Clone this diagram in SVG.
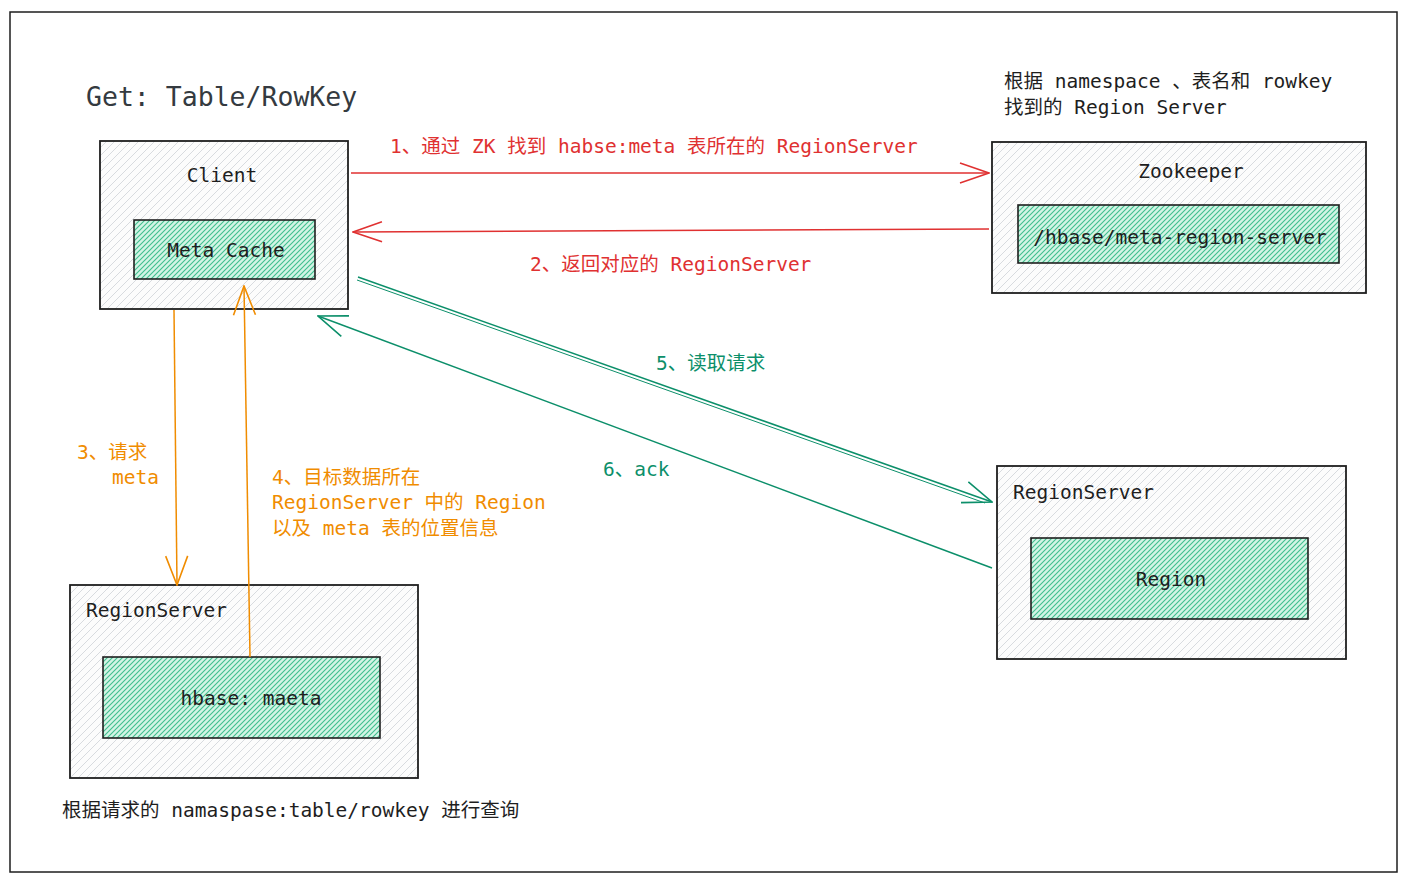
<svg xmlns="http://www.w3.org/2000/svg" width="1406" height="883" viewBox="0 0 1406 883">
<style>
text{font-family:"DejaVu Sans Mono","Noto Sans CJK SC",monospace;font-size:19.5px;fill:#1e1e1e}
.t{font-size:26.5px;fill:#343a40}
.red{fill:#e03131}
.org{fill:#f08c00}
.grn{fill:#0c8f6a}
.box{fill:url(#hg);stroke:#1e1e1e;stroke-width:1.8}
.inner{fill:url(#hgr);stroke:#1e1e1e;stroke-width:1.6}
.c{text-anchor:middle}
</style>
<defs>
<pattern id="hg" patternUnits="userSpaceOnUse" width="8" height="8">
<rect width="8" height="8" fill="#fcfcfc"/>
<path d="M-2,2 l4,-4 M0,8 l8,-8 M6,10 l4,-4" stroke="#d8dbdf" stroke-width="1"/>
</pattern>
<pattern id="hgr" patternUnits="userSpaceOnUse" width="5" height="5">
<rect width="5" height="5" fill="#d3f4e5"/>
<path d="M-1,1 l2,-2 M0,5 l5,-5 M4,6 l2,-2" stroke="#3fbf8e" stroke-width="1.1"/>
</pattern>
<marker id="ar" markerUnits="userSpaceOnUse" markerWidth="32" markerHeight="26" viewBox="0 0 32 26" refX="31" refY="13" orient="auto">
<path d="M2,3 L31,13 L2,23" fill="none" stroke="#e03131" stroke-width="1.6"/>
</marker>
<marker id="ao" markerUnits="userSpaceOnUse" markerWidth="32" markerHeight="26" viewBox="0 0 32 26" refX="31" refY="13" orient="auto">
<path d="M2,2 L31,13 L2,24" fill="none" stroke="#f08c00" stroke-width="1.6"/>
</marker>
<marker id="ag" markerUnits="userSpaceOnUse" markerWidth="32" markerHeight="26" viewBox="0 0 32 26" refX="31" refY="13" orient="auto">
<path d="M2,2 L31,13 L2,24" fill="none" stroke="#0c8f6a" stroke-width="1.6"/>
</marker>
</defs>
<rect width="1406" height="883" fill="#ffffff"/>
<rect x="10" y="12" width="1387" height="860" fill="none" stroke="#1e1e1e" stroke-width="1.5"/>

<text class="t" x="86" y="106">Get: Table/RowKey</text>
<text x="1004" y="88">根据 namespace 、表名和 rowkey</text>
<text x="1004" y="114">找到的 Region Server</text>

<g id="client">
<rect class="box" x="100" y="141" width="248" height="168"/>
<text class="c" x="222" y="182">Client</text>
</g>
<g id="meta-cache">
<rect class="inner" x="134" y="220" width="181" height="59"/>
<text class="c" x="226" y="257">Meta Cache</text>
</g>
<g id="zookeeper">
<rect class="box" x="992" y="142" width="374" height="151"/>
<text class="c" x="1191" y="178">Zookeeper</text>
</g>
<g id="meta-region-server">
<rect class="inner" x="1018" y="205" width="321" height="58"/>
<text class="c" x="1180" y="244">/hbase/meta-region-server</text>
</g>
<g id="regionserver-right">
<rect class="box" x="997" y="466" width="349" height="193"/>
<text x="1013" y="499">RegionServer</text>
</g>
<g id="region">
<rect class="inner" x="1031" y="538" width="277" height="81"/>
<text class="c" x="1171" y="586">Region</text>
</g>
<g id="regionserver-left">
<rect class="box" x="70" y="585" width="348" height="193"/>
<text x="86" y="617">RegionServer</text>
</g>
<g id="hbase-meta">
<rect class="inner" x="103" y="657" width="277" height="81"/>
<text class="c" x="251" y="705">hbase: maeta</text>
</g>
<text x="62" y="817">根据请求的 namaspase:table/rowkey 进行查询</text>

<g id="connectors" fill="none" stroke-width="1.5">
<path d="M351,173 L989,173" stroke="#e03131" marker-end="url(#ar)"/>
<path d="M989,229 L353,232" stroke="#e03131" marker-end="url(#ar)"/>
<path d="M174,310 L177,585" stroke="#f08c00" marker-end="url(#ao)"/>
<path d="M250,657 L244,286" stroke="#f08c00" marker-end="url(#ao)"/>
<path d="M358,277 L992,502" stroke="#0c8f6a" marker-end="url(#ag)"/>
<path d="M357,280 L985,503" stroke="#0c8f6a" stroke-width="1"/>
<path d="M992,568 L318,316" stroke="#0c8f6a" marker-end="url(#ag)"/>
</g>

<g id="labels">
<text class="red" x="390" y="153">1、通过 ZK 找到 habse:meta 表所在的 RegionServer</text>
<text class="red" x="530" y="271">2、返回对应的 RegionServer</text>
<text class="org" x="77" y="459">3、请求</text>
<text class="org" x="112" y="484">meta</text>
<text class="org" x="272" y="484">4、目标数据所在</text>
<text class="org" x="272" y="509">RegionServer 中的 Region</text>
<text class="org" x="272" y="535">以及 meta 表的位置信息</text>
<text class="grn" x="656" y="370">5、读取请求</text>
<text class="grn" x="603" y="476">6、ack</text>
</g>
</svg>
